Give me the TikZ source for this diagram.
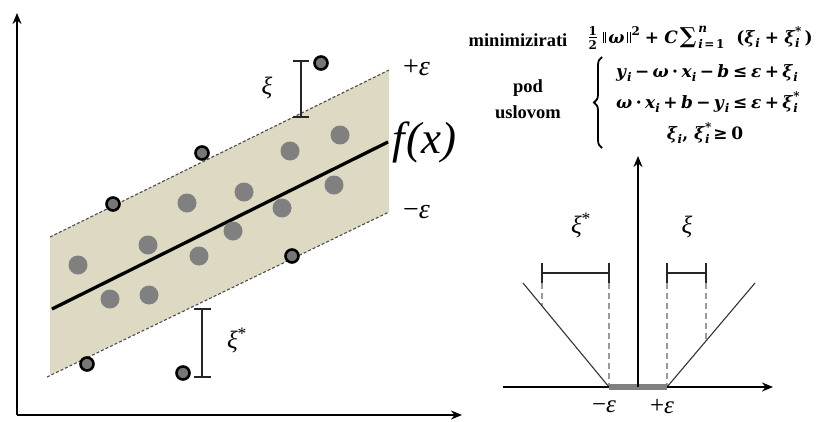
\documentclass[tikz,border=0pt]{standalone}
\usepackage{fontspec}
\newfontfamily\tnr{Liberation Serif}
\newfontfamily\dvs{DejaVu Serif}
\usetikzlibrary{arrows.meta,decorations.pathreplacing}
\definecolor{band}{HTML}{DDD9C3}
\definecolor{dotc}{HTML}{808080}
\definecolor{dashc}{HTML}{9A9A9A}
\newcommand\mysm[1]{{\fontsize{12}{12}\selectfont #1}}
\newcommand\myi{\raisebox{-0.25em}{\mysm{\textit{i}}}}
\newcommand\myis{\makebox[0pt][l]{\raisebox{0.45em}{\mysm{*}}}\raisebox{-0.25em}{\mysm{\textit{i}}}}
\newcommand\mynorm{\rule[-0.02em]{0.8pt}{0.7em}\kern1.8pt\rule[-0.02em]{0.8pt}{0.7em}}
\newcommand\myhalf{\makebox[0.55em]{\raisebox{0.42em}{\mysm{1}}}\kern-0.55em\makebox[0.55em]{\raisebox{0.3em}{\rule{0.45em}{0.8pt}}}\kern-0.55em\makebox[0.55em]{\raisebox{-0.4em}{\mysm{2}}}}
\newcommand\mylim{\makebox[0pt][l]{\raisebox{0.62em}{\mysm{\textit{n}}}}\raisebox{-0.34em}{\mysm{\textit{i}\kern1.5pt=\kern1.5pt1}}}
\newcommand\bop[1]{\kern0.2em#1\kern0.2em}
\newcommand\wop[1]{\kern0.3em#1\kern0.3em}
\newcommand\brel[1]{\kern0.22em#1\kern0.22em}
\tikzset{
  inpt/.style={circle,fill=dotc,minimum size=19pt,inner sep=0pt},
  outpt/.style={circle,fill=dotc!92!black,draw=black,line width=2.6pt,minimum size=13pt,inner sep=0pt},
  edge/.style={densely dashed,line width=1.1pt,draw=black!70},
  brk/.style={line width=1.8pt,draw=black!85},
  axis/.style={line width=2pt,-{Stealth[length=11pt,width=9pt]}},
  vline/.style={line width=1.1pt,draw=black!80},
  gdash/.style={line width=1.6pt,draw=dashc,dash pattern=on 6pt off 4pt},
  lbl/.style={font=\tnr\itshape\fontsize{25}{28}\selectfont,inner sep=0pt},
  pmlbl/.style={font=\tnr\itshape\fontsize{28}{30}\selectfont,inner sep=0pt},
  frm/.style={font=\dvs\bfseries\fontsize{17}{20}\selectfont,inner sep=0pt},
  wrd/.style={font=\tnr\bfseries\fontsize{18.5}{22}\selectfont,inner sep=0pt}
}
\begin{document}
\begin{tikzpicture}[x=1pt,y=-1pt]
\useasboundingbox (0,0) rectangle (824,421);
% ---------------- left plot ----------------
\coordinate (bl1) at (50,237);
\coordinate (br1) at (389,70);
\coordinate (br2) at (389,212);
\coordinate (bl2) at (50,375);
\fill[band] (bl1) -- (br1) -- (br2) -- (bl2) -- cycle;
\draw[edge] (bl1) -- (br1);
\draw[edge] (47,377) -- (br2);
\coordinate (fl) at (52,309);
\coordinate (fr) at (388,142);
\draw[line width=3.3pt] (fl) -- (fr);
% inner points
\node[inpt] (p1) at (78,265) {};
\node[inpt] (p2) at (110,299) {};
\node[inpt] (p3) at (148,245) {};
\node[inpt] (p4) at (149,295) {};
\node[inpt] (p5) at (187,203) {};
\node[inpt] (p6) at (199,256) {};
\node[inpt] (p7) at (233,231) {};
\node[inpt] (p8) at (244,192) {};
\node[inpt] (p9) at (282,208) {};
\node[inpt] (p10) at (290,151) {};
\node[inpt] (p11) at (334,185) {};
\node[inpt] (p12) at (340,135) {};
% outlined points
\node[outpt] (q1) at (113,204) {};
\node[outpt] (q2) at (202,153) {};
\node[outpt] (q3) at (321,63) {};
\node[outpt] (q4) at (292,256) {};
\node[outpt] (q5) at (87,364) {};
\node[outpt] (q6) at (183,373) {};
% xi bracket
\coordinate (xt) at (301,61);
\coordinate (xb) at (301,117);
\draw[brk] (xt) -- (xb);
\draw[brk] ([xshift=-8pt]xt) -- ([xshift=8pt]xt);
\draw[brk] ([xshift=-8pt]xb) -- ([xshift=8pt]xb);
\node[lbl] (lxi) at (267,88) {ξ};
% xi* bracket
\coordinate (yt) at (202,309);
\coordinate (yb) at (202,377);
\draw[brk] (yt) -- (yb);
\draw[brk] ([xshift=-8pt]yt) -- ([xshift=9pt]yt);
\draw[brk] ([xshift=-8pt]yb) -- ([xshift=9pt]yb);
\node[lbl] (lxis) at (237,340) {ξ\textsuperscript{\upshape*}};
% labels
\node[pmlbl,anchor=west] (pe) at (403,68) {\upshape+\itshape ε};
\node[lbl,anchor=west,font=\tnr\itshape\fontsize{45}{48}\selectfont] (fx) at (392,142) {f\kern2pt(x)};
\node[pmlbl,anchor=west] (me) at (403,212) {\upshape−\itshape ε};
% axes
\coordinate (o1) at (17,415);
\draw[axis] (o1) -- (17,13);
\draw[axis] (o1) -- (462,415);
% ---------------- formula ----------------
\node[wrd] (mini) at (518,40) {minimizirati};
\node[frm,anchor=west] (obj) at (588,38) {\myhalf\kern5pt\mynorm\kern2.5pt\textit{ω}\kern2.5pt\mynorm\kern1pt\raisebox{0.42em}{\mysm{2}}\wop{+}\textit{C}\kern2pt{\fontsize{22}{22}\selectfont∑}\kern2pt\mylim\kern12pt(\textit{ξ}\myi\wop{+}\textit{ξ}\myis\kern5pt)};
\node[wrd] (pod) at (528,88) {pod};
\node[wrd] (usl) at (528,112) {uslovom};
\coordinate (brb) at (602,148);
\coordinate (brt) at (602,57);
\draw[line width=1.8pt,decorate,decoration={brace,amplitude=8pt}] (brb) -- (brt);
\node[frm] (c1) at (707,73) {\textit{y}\myi\bop{−}\textit{ω}\bop{·}\textit{x}\myi\bop{−}\textit{b}\brel{≤}\textit{ε}\bop{+}\textit{ξ}\myi};
\node[frm] (c2) at (707,102) {\textit{ω}\bop{·}\textit{x}\myi\bop{+}\textit{b}\bop{−}\textit{y}\myi\brel{≤}\textit{ε}\bop{+}\textit{ξ}\myis};
\node[frm] (c3) at (705,133) {\textit{ξ}\myi,\kern6pt\textit{ξ}\myis\brel{≥}0};
% ---------------- right plot ----------------
\coordinate (o2) at (638,387);
\coordinate (me2) at (609,387);
\coordinate (pe2) at (667,387);
\coordinate (lt) at (523,283);
\coordinate (rt) at (755,283);
\draw[gdash] (542,283) -- (542,306);
\draw[gdash] (609,283) -- (me2);
\draw[gdash] (667,283) -- (pe2);
\draw[gdash] (706,283) -- (706,341);
\draw[vline] (lt) -- (me2);
\draw[vline] (pe2) -- (rt);
\draw[line width=2pt,-{Stealth[length=11pt,width=9pt]}] (503,387) -- (773,387);
\draw[line width=6pt,draw=black!50] (me2) -- (pe2);
\draw[line width=2pt,-{Stealth[length=11pt,width=9pt]}] (o2) -- (638,156);
% brackets
\draw[brk] (542,273) -- (609,273);
\draw[brk] (542,263) -- (542,283);
\draw[brk] (609,263) -- (609,283);
\draw[brk] (667,273) -- (706,273);
\draw[brk] (667,263) -- (667,283);
\draw[brk] (706,263) -- (706,283);
\node[lbl] (rxis) at (581,225) {ξ\textsuperscript{\upshape*}};
\node[lbl] (rxi) at (687,227) {ξ};
\node[lbl] (rme) at (604,407) {\upshape−\itshape ε};
\node[lbl] (rpe) at (662,407) {\upshape+\itshape ε};
\end{tikzpicture}
\end{document}
